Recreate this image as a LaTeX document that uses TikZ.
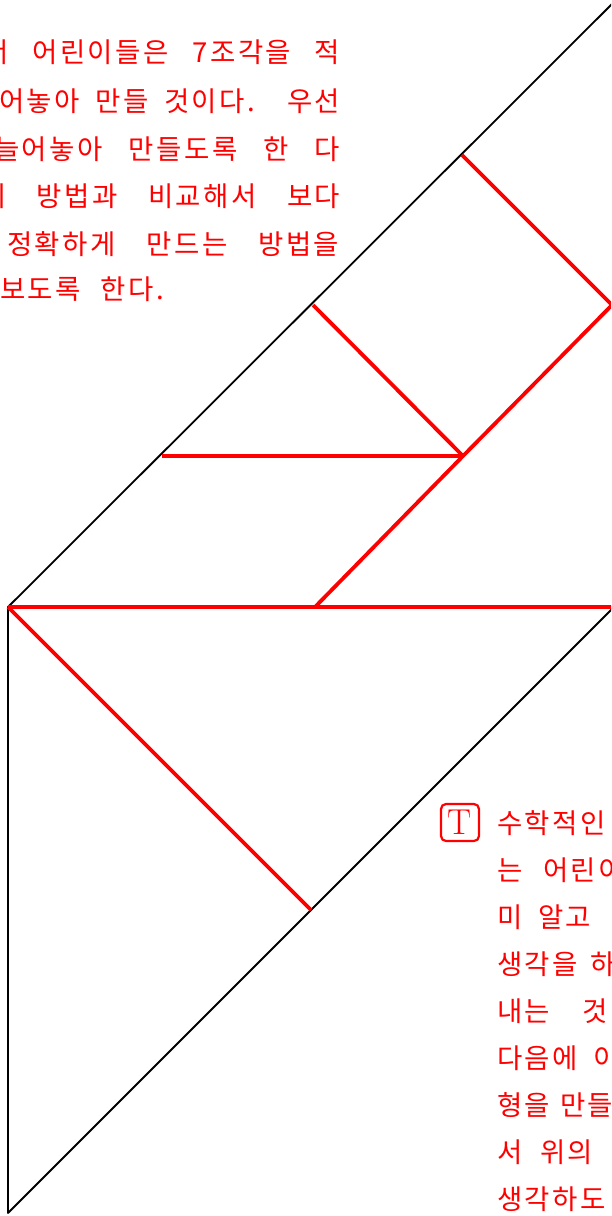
\documentclass[tikz,border=0pt]{standalone}
\usepackage{fontspec}
\newfontfamily\kr[LetterSpace=9]{Noto Sans CJK KR}
\definecolor{tred}{RGB}{255,0,0}
\begin{document}
\begin{tikzpicture}[x=1pt,y=-1pt,
  blk/.style={draw=black,line width=1.8pt,line join=round},
  redl/.style={draw=tred,line width=3.8pt,line join=round},
  txt/.style={font=\kr\fontsize{27.5}{27.5}\selectfont,text=tred,inner sep=0pt,anchor=west},
  tbox/.style={draw=tred,line width=2.2pt,rounded corners=5pt,minimum width=38pt,minimum height=37pt,inner sep=0pt,
    font=\rmfamily\fontsize{36}{36}\selectfont,text=tred}]
\useasboundingbox (0,0) rectangle (611,1216);
\clip (0,0) rectangle (611,1216);
% key points
\coordinate (T) at (616,0);
\coordinate (A) at (8,607);
\coordinate (B) at (8,1213);
\coordinate (E) at (616,605);
\coordinate (H) at (616,607);
\coordinate (D) at (311,910);
\coordinate (P1) at (162,456);
\coordinate (Q) at (463,456);
\coordinate (P2) at (313,305);
\coordinate (R) at (462,155);
\coordinate (S) at (612,305);
\coordinate (M) at (315,607);
% black outline
\draw[blk] (T) -- (A) -- (B) -- (E);
% red pieces
\draw[redl] (A) -- (H);
\draw[redl] (A) -- (D);
\draw[redl] (P1) -- (Q);
\draw[redl] (P2) -- (Q);
\draw[redl] (M) -- (Q) -- (S) -- (R);
% top-left text
\node[txt] (l1) at (-17,52.5) {\makebox[357pt][s]{서 어린이들은 7조각을 적}};
\node[txt] (l2) at (-1,100.8) {\makebox[341pt][s]{어놓아 만들 것이다. 우선}};
\node[txt] (l3) at (-6,149) {\makebox[346pt][s]{늘어놓아 만들도록 한 다}};
\node[txt] (l4) at (-19,196) {\makebox[359pt][s]{의 방법과 비교해서 보다}};
\node[txt] (l5) at (7,244) {\makebox[332pt][s]{정확하게 만드는 방법을}};
\node[txt] (l6) at (0,289) {\makebox[164pt][s]{보도록 한다.}};
% bottom-right text
\node[tbox] (tb) at (460,822.5) {T};
\node[txt] (r1) at (497,823.5) {수학적인};
\node[txt] (r2a) at (497,870) {는};
\node[txt] (r2b) at (543,870) {어린이};
\node[txt] (r3a) at (497,917) {미};
\node[txt] (r3b) at (538,917) {알고};
\node[txt] (r4a) at (497,964) {생각을};
\node[txt] (r4b) at (590,964) {하};
\node[txt] (r5a) at (497,1011) {내는};
\node[txt] (r5b) at (582,1011) {것};
\node[txt] (r6a) at (497,1058) {다음에};
\node[txt] (r6b) at (593,1058) {이};
\node[txt] (r7a) at (497,1105) {형을};
\node[txt] (r7b) at (560,1105) {만들};
\node[txt] (r8a) at (497,1152) {서};
\node[txt] (r8b) at (540,1152) {위의};
\node[txt] (r9) at (497,1199) {생각하도};
\end{tikzpicture}
\end{document}
